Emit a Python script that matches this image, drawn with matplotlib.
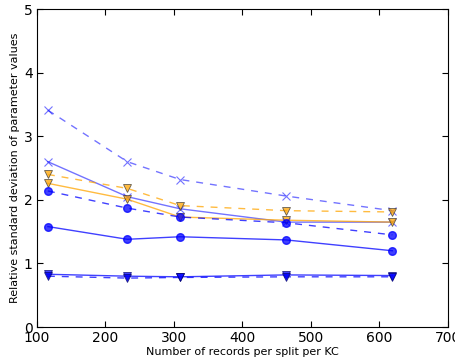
import matplotlib
matplotlib.use('Agg')
import matplotlib.pyplot as plt

# records per split per KC
records = [116, 232, 309, 464, 619]

# relative standard deviation for each parameter / model
x_dashed = [3.41, 2.60, 2.32, 2.06, 1.83]
x_solid = [2.60, 2.05, 1.86, 1.65, 1.65]
tri_orange_dashed = [2.40, 2.18, 1.91, 1.83, 1.81]
tri_orange_solid = [2.26, 2.01, 1.73, 1.68, 1.65]
dot_dashed = [2.14, 1.87, 1.73, 1.64, 1.45]
dot_solid = [1.58, 1.38, 1.42, 1.37, 1.20]
tri_blue_solid = [0.83, 0.80, 0.79, 0.82, 0.81]
tri_blue_dashed = [0.80, 0.77, 0.78, 0.79, 0.79]

plt.rcParams['font.family'] = 'DejaVu Sans'
fig = plt.figure(figsize=(4.56, 3.63), dpi=100)
ax = fig.add_axes([0.081, 0.099, 0.901, 0.876])

blue = '#0000ff'
orange = '#ffa500'
dash = (5, 5)

# x-marker series
ax.plot(records, x_dashed, color=blue, linestyle='--', dashes=dash, lw=1, marker='x',
        markersize=6, mew=0.8, alpha=0.55)
ax.plot(records, x_solid, color=blue, linestyle='-', lw=1, marker='x',
        markersize=6, mew=0.8, alpha=0.55)

# orange triangles
ax.plot(records, tri_orange_dashed, color=orange, linestyle='--', dashes=dash, lw=1, marker='v',
        markersize=6, mfc=orange, mec='#333333', mew=0.6, alpha=0.75)
ax.plot(records, tri_orange_solid, color=orange, linestyle='-', lw=1, marker='v',
        markersize=6, mfc=orange, mec='#333333', mew=0.6, alpha=0.75)

# circles
ax.plot(records, dot_dashed, color=blue, linestyle='--', dashes=dash, lw=1, marker='o',
        markersize=5.5, mfc=blue, mec=blue, alpha=0.75)
ax.plot(records, dot_solid, color=blue, linestyle='-', lw=1, marker='o',
        markersize=5.5, mfc=blue, mec=blue, alpha=0.75)

# blue triangles
ax.plot(records, tri_blue_solid, color=blue, linestyle='-', lw=1, marker='v',
        markersize=6, mfc=blue, mec='#000066', mew=0.6, alpha=0.75)
ax.plot(records, tri_blue_dashed, color=blue, linestyle='--', dashes=dash, lw=1, marker='v',
        markersize=6, mfc=blue, mec='#000066', mew=0.6, alpha=0.75)

ax.set_xlim(100, 700)
ax.set_ylim(0, 5)
ax.set_xticks([100, 200, 300, 400, 500, 600, 700])
ax.set_yticks([0, 1, 2, 3, 4, 5])
ax.tick_params(direction='in', top=True, right=True, labelsize=10, length=4, pad=3)
ax.set_xlabel('Number of records per split per KC', fontsize=8, labelpad=1)
ax.set_ylabel('Relative standard deviation of parameter values', fontsize=8, labelpad=3)

fig.savefig('out.png', dpi=100)
